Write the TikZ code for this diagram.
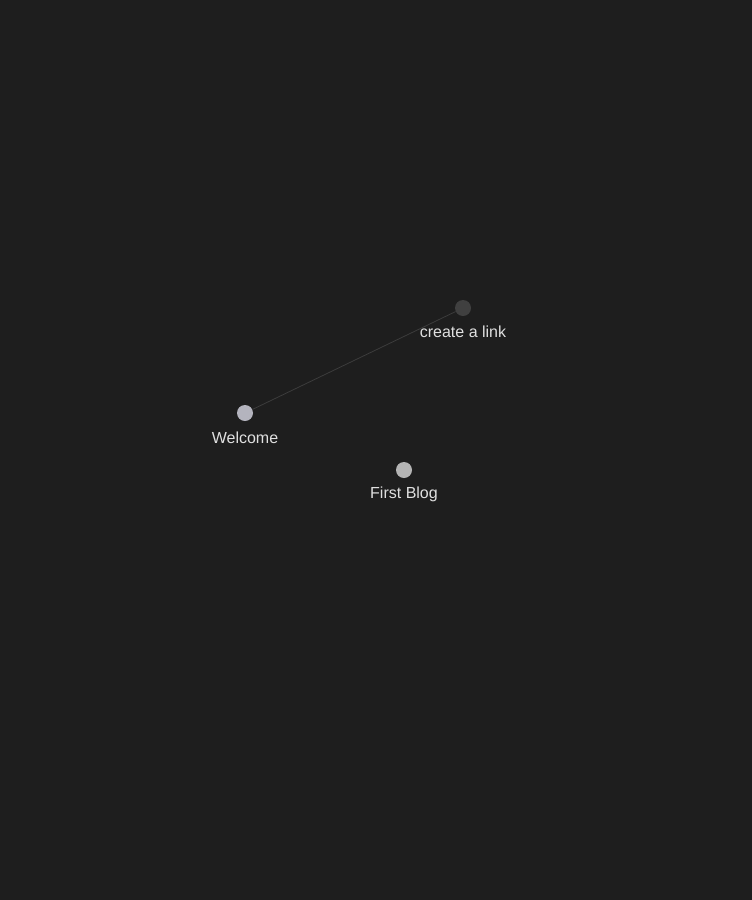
\documentclass[tikz,border=0pt]{standalone}
\usepackage{fontspec}
\setmainfont{Liberation Sans}
\definecolor{bg}{HTML}{1E1E1E}
\definecolor{edgegray}{HTML}{3C3C3C}
\definecolor{dotlight}{HTML}{B4B4BE}
\definecolor{dotgray}{HTML}{B4B4B4}
\definecolor{dotdark}{HTML}{404040}
\definecolor{labelgray}{HTML}{E0E0E0}
\tikzset{
  dot/.style={circle, inner sep=0pt, minimum size=16pt},
  lbl/.style={text=labelgray, font=\fontsize{16}{19}\selectfont, inner sep=0pt}
}
\begin{document}
\begin{tikzpicture}[x=1pt, y=-1pt]
            \fill[bg] (0,0) rectangle (752,900);
            \useasboundingbox (0,0) rectangle (752,900);
            \draw (463,308) node[dot, fill=dotdark] (link) {};
            \draw (245,413) node[dot, fill=dotlight] (welc) {};
            \draw (404,470) node[dot, fill=dotgray] (blog) {};
            \draw (463,332) node[lbl] (linklbl) {create a link};
            \draw (245,438) node[lbl] (welclbl) {Welcome};
            \draw (404,494) node[lbl] (bloglbl) {First Blog};
            \draw[edgegray, line width=0.8pt] (welc) -- (link);
        \end{tikzpicture}
\end{document}
